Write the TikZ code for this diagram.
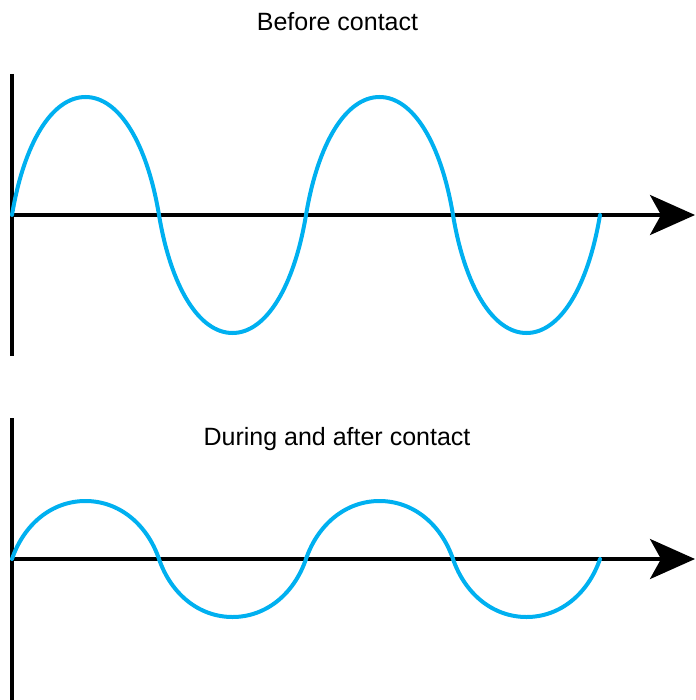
\documentclass[tikz,border=0pt]{standalone}
\usepackage{fontspec}
\setmainfont{Liberation Sans}
\usetikzlibrary{arrows.meta}

\definecolor{wavecyan}{RGB}{0,176,240}

\begin{document}
\begin{tikzpicture}[
		x = 1pt, y = -1pt, % one unit per pixel, y downwards
		> = {Stealth[length=45pt, width=40pt, inset=11pt]}, % arrow head style
		line width = 3.6pt, % line style
		font=\fontsize{25}{30}\selectfont
		]
		
		\tikzstyle{axis}=[
		draw = black
		]
		\tikzstyle{wave}=[
		draw = wavecyan,
		line width = 4pt,
		line cap = round
		]
		
		\useasboundingbox (0,0) rectangle (695,700);
		
		% before contact
		\node[anchor=base] (title1) at (337.5,31) {Before contact};
		\coordinate (up1) at (12,74);
		\coordinate (down1) at (12,356);
		\coordinate (orig1) at (12,215);
		\coordinate (end1) at (695,215);
		
		\draw[axis] (up1) -- (down1);
		\draw[axis, ->] (orig1) -- (end1);
		\foreach \xa/\s in {12/1, 159/-1, 306/1, 453/-1}
			\draw[wave] (\xa,215) .. controls ({\xa+12},{215-72*\s}) and ({\xa+40},{215-118*\s}) .. ({\xa+73.5},{215-118*\s})
				.. controls ({\xa+107},{215-118*\s}) and ({\xa+135},{215-72*\s}) .. ({\xa+147},215);
		
		% during and after contact
		\node[anchor=base] (title2) at (337,445) {During and after contact};
		\coordinate (up2) at (12,418);
		\coordinate (down2) at (12,700);
		\coordinate (orig2) at (12,559);
		\coordinate (end2) at (695,559);
		
		\draw[axis] (up2) -- (down2);
		\draw[axis, ->] (orig2) -- (end2);
		\foreach \xa/\s in {12/1, 159/-1, 306/1, 453/-1}
			\draw[wave] (\xa,559) .. controls ({\xa+12},{559-35*\s}) and ({\xa+40},{559-58*\s}) .. ({\xa+73.5},{559-58*\s})
				.. controls ({\xa+107},{559-58*\s}) and ({\xa+135},{559-35*\s}) .. ({\xa+147},559);
	\end{tikzpicture}
\end{document}
